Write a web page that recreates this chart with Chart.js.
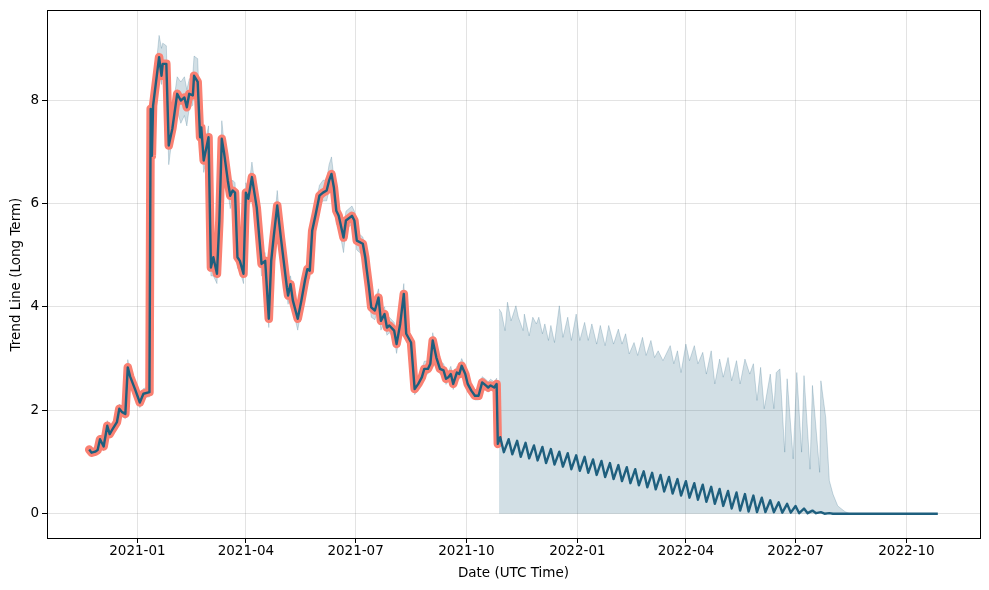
<!DOCTYPE html>
<html lang="en">
<head>
    <meta charset="UTF-8">
    <title>Trend Line (Long Term)</title>
    <script src="https://cdn.jsdelivr.net/npm/chart.js@4.4.0/dist/chart.umd.min.js"></script>
    <style>
        body {
            margin: 0;
            background-color: white;
        }
        .chart-container {
            position: relative;
            width: 989px;
            height: 590px;
        }
    </style>
</head>
<body>
    <div class="chart-container">
        <canvas id="trendChart" width="989" height="590"></canvas>
    </div>

    <script>
        // history (fitted) trend
        const histDates = [
            '2020-11-22','2020-11-24','2020-11-27','2020-11-29','2020-12-01','2020-12-04','2020-12-07','2020-12-09','2020-12-11','2020-12-15',
            '2020-12-17','2020-12-19','2020-12-22','2020-12-24','2020-12-26','2020-12-30','2021-01-03','2021-01-06','2021-01-11','2021-01-12',
            '2021-01-13','2021-01-14','2021-01-19','2021-01-21','2021-01-22','2021-01-25','2021-01-27','2021-01-30','2021-02-03','2021-02-06',
            '2021-02-09','2021-02-11','2021-02-13','2021-02-16','2021-02-17','2021-02-20','2021-02-22','2021-02-23','2021-02-25','2021-03-01',
            '2021-03-03','2021-03-05','2021-03-08','2021-03-10','2021-03-12','2021-03-14','2021-03-17','2021-03-19','2021-03-21','2021-03-23',
            '2021-03-25','2021-03-27','2021-03-30','2021-04-01','2021-04-03','2021-04-06','2021-04-10','2021-04-14','2021-04-17','2021-04-20',
            '2021-04-22','2021-04-24','2021-04-27','2021-04-30','2021-05-05','2021-05-06','2021-05-08','2021-05-10','2021-05-14','2021-05-17',
            '2021-05-20','2021-05-22','2021-05-24','2021-05-26','2021-05-29','2021-06-01','2021-06-04','2021-06-07','2021-06-09','2021-06-11',
            '2021-06-13','2021-06-15','2021-06-17','2021-06-21','2021-06-23','2021-06-28','2021-06-30','2021-07-02','2021-07-07','2021-07-09',
            '2021-07-10','2021-07-12','2021-07-14','2021-07-17','2021-07-20','2021-07-22','2021-07-25','2021-07-27','2021-07-29','2021-08-02',
            '2021-08-04','2021-08-07','2021-08-10','2021-08-12','2021-08-16','2021-08-19','2021-08-22','2021-08-25','2021-08-27','2021-08-30',
            '2021-09-01','2021-09-03','2021-09-06','2021-09-09','2021-09-12','2021-09-14','2021-09-16','2021-09-18','2021-09-20','2021-09-23',
            '2021-09-25','2021-09-27','2021-09-30','2021-10-02','2021-10-05','2021-10-08','2021-10-11','2021-10-14','2021-10-17','2021-10-19',
            '2021-10-21','2021-10-24','2021-10-26','2021-10-27'
        ];
        const histTrend = [
            1.24, 1.18, 1.20, 1.23, 1.44, 1.30, 1.70, 1.54, 1.62, 1.77,
            2.03, 1.97, 1.93, 2.83, 2.65, 2.41, 2.15, 2.32, 2.35, 7.83,
            6.92, 7.89, 8.83, 8.47, 8.70, 8.70, 7.12, 7.45, 8.12, 7.99,
            8.05, 7.86, 8.12, 8.09, 8.47, 8.35, 7.28, 7.47, 6.83, 7.28,
            4.76, 4.96, 4.64, 5.67, 7.25, 6.96, 6.44, 6.15, 6.25, 6.21,
            4.96, 4.89, 4.64, 6.21, 6.09, 6.51, 5.92, 4.83, 4.89, 3.77,
            4.89, 5.34, 5.96, 5.34, 4.38, 4.22, 4.44, 4.12, 3.77, 4.12,
            4.51, 4.73, 4.70, 5.47, 5.80, 6.15, 6.21, 6.25, 6.44, 6.57,
            6.31, 5.86, 5.76, 5.34, 5.67, 5.76, 5.67, 5.28, 5.22, 4.96,
            4.76, 4.40, 3.99, 3.93, 4.18, 3.73, 3.86, 3.60, 3.64, 3.54,
            3.28, 3.67, 4.25, 3.48, 3.31, 2.41, 2.51, 2.64, 2.80, 2.80,
            2.90, 3.35, 3.02, 2.80, 2.77, 2.61, 2.64, 2.70, 2.51, 2.73,
            2.70, 2.86, 2.70, 2.51, 2.38, 2.28, 2.28, 2.54, 2.48, 2.44,
            2.48, 2.44, 2.51, 1.35
        ];
        const histUpper = [
            1.30, 1.26, 1.28, 1.32, 1.52, 1.38, 1.80, 1.62, 1.70, 1.86,
            2.12, 2.05, 2.00, 2.98, 2.74, 2.50, 2.24, 2.42, 2.45, 7.95,
            7.10, 8.05, 9.25, 9.00, 9.10, 9.05, 7.35, 7.80, 8.45, 8.35,
            8.45, 8.20, 8.40, 8.50, 8.85, 8.80, 7.55, 7.70, 7.05, 7.50,
            4.95, 5.15, 4.80, 5.85, 7.60, 7.15, 6.70, 6.35, 6.45, 6.40,
            5.10, 5.05, 4.80, 6.40, 6.25, 6.80, 6.10, 5.00, 5.05, 3.90,
            5.05, 5.50, 6.25, 5.50, 4.55, 4.40, 4.60, 4.30, 3.90, 4.25,
            4.70, 4.90, 4.85, 5.65, 6.00, 6.35, 6.45, 6.45, 6.75, 6.90,
            6.50, 6.00, 5.90, 5.50, 5.85, 5.95, 5.85, 5.45, 5.35, 5.15,
            4.90, 4.55, 4.15, 4.10, 4.35, 3.90, 4.00, 3.75, 3.80, 3.70,
            3.40, 3.85, 4.45, 3.60, 3.45, 2.55, 2.65, 2.80, 2.95, 2.95,
            3.05, 3.50, 3.15, 2.95, 2.90, 2.75, 2.75, 2.85, 2.65, 2.85,
            2.85, 3.00, 2.85, 2.65, 2.50, 2.40, 2.40, 2.65, 2.60, 2.55,
            2.60, 2.55, 2.62, 1.45
        ];
        const histLower = [
            1.18, 1.12, 1.14, 1.16, 1.36, 1.22, 1.62, 1.46, 1.54, 1.68,
            1.95, 1.88, 1.84, 2.75, 2.56, 2.32, 2.05, 2.24, 2.26, 7.70,
            6.85, 7.78, 8.70, 8.30, 8.55, 8.40, 6.75, 7.30, 7.80, 7.55,
            7.70, 7.50, 7.85, 7.90, 8.30, 8.20, 7.00, 7.30, 6.60, 7.05,
            4.60, 4.60, 4.45, 5.50, 7.10, 6.80, 6.25, 5.90, 6.10, 6.05,
            4.75, 4.70, 4.45, 6.05, 5.90, 6.35, 5.75, 4.60, 4.70, 3.60,
            4.75, 5.20, 5.80, 5.15, 4.20, 4.05, 4.30, 3.95, 3.55, 3.95,
            4.35, 4.55, 4.55, 5.30, 5.60, 5.95, 6.05, 6.05, 6.25, 6.40,
            6.10, 5.60, 5.55, 5.05, 5.50, 5.60, 5.50, 5.10, 5.00, 4.75,
            4.55, 4.20, 3.80, 3.75, 4.00, 3.55, 3.70, 3.45, 3.50, 3.40,
            3.10, 3.55, 4.10, 3.35, 3.15, 2.30, 2.40, 2.55, 2.70, 2.70,
            2.80, 3.25, 2.90, 2.70, 2.65, 2.50, 2.55, 2.60, 2.40, 2.65,
            2.60, 2.75, 2.60, 2.40, 2.30, 2.20, 2.20, 2.45, 2.40, 2.35,
            2.40, 2.35, 2.42, 1.30
        ];

        // forecast trend (weekly zigzag)
        const fcstDates = [
            '2021-10-29','2021-11-01','2021-11-05','2021-11-08','2021-11-12','2021-11-15','2021-11-19','2021-11-22','2021-11-26','2021-11-29',
            '2021-12-03','2021-12-06','2021-12-10','2021-12-13','2021-12-17','2021-12-20','2021-12-24','2021-12-27','2021-12-31','2022-01-03',
            '2022-01-07','2022-01-10','2022-01-14','2022-01-17','2022-01-21','2022-01-24','2022-01-28','2022-01-31','2022-02-04','2022-02-07',
            '2022-02-11','2022-02-14','2022-02-18','2022-02-21','2022-02-25','2022-02-28','2022-03-04','2022-03-07','2022-03-11','2022-03-14',
            '2022-03-18','2022-03-21','2022-03-25','2022-03-28','2022-04-01','2022-04-04','2022-04-08','2022-04-11','2022-04-15','2022-04-18',
            '2022-04-22','2022-04-25','2022-04-29','2022-05-02','2022-05-06','2022-05-09','2022-05-13','2022-05-16','2022-05-20','2022-05-23',
            '2022-05-27','2022-05-30','2022-06-03','2022-06-06','2022-06-10','2022-06-13','2022-06-17','2022-06-20','2022-06-24','2022-06-27',
            '2022-07-01','2022-07-04','2022-07-08','2022-07-11','2022-07-15','2022-07-18','2022-07-22','2022-07-25','2022-07-29','2022-08-01',
            '2022-10-27'
        ];
        const fcstTrend = [
            1.48, 1.19, 1.44, 1.15, 1.41, 1.10, 1.37, 1.07, 1.32, 1.03,
            1.29, 0.98, 1.25, 0.95, 1.20, 0.91, 1.17, 0.86, 1.13, 0.83,
            1.10, 0.79, 1.05, 0.75, 1.02, 0.71, 0.98, 0.67, 0.94, 0.63,
            0.90, 0.59, 0.86, 0.55, 0.82, 0.51, 0.79, 0.47, 0.75, 0.43,
            0.71, 0.39, 0.67, 0.35, 0.63, 0.31, 0.59, 0.27, 0.56, 0.23,
            0.52, 0.19, 0.48, 0.15, 0.44, 0.10, 0.41, 0.06, 0.38, 0.04,
            0.35, 0.03, 0.31, 0.03, 0.26, 0.03, 0.22, 0.02, 0.19, 0.02,
            0.15, 0.01, 0.10, 0.01, 0.06, 0.01, 0.03, 0.00, 0.01, 0.00,
            0.00
        ];

        // forecast uncertainty upper edge (lower edge sits on 0)
        const bandDates = [
            '2021-10-28','2021-10-30','2021-11-02','2021-11-04','2021-11-07','2021-11-11','2021-11-13','2021-11-17','2021-11-18','2021-11-22',
            '2021-11-25','2021-11-28','2021-11-30','2021-12-03','2021-12-05','2021-12-08','2021-12-10','2021-12-13','2021-12-17','2021-12-20',
            '2021-12-24','2021-12-27','2021-12-31','2022-01-03','2022-01-07','2022-01-10','2022-01-13','2022-01-17','2022-01-20','2022-01-24',
            '2022-01-27','2022-01-31','2022-02-04','2022-02-07','2022-02-10','2022-02-13','2022-02-17','2022-02-20','2022-02-24','2022-02-27',
            '2022-03-03','2022-03-06','2022-03-09','2022-03-13','2022-03-19','2022-03-22','2022-03-25','2022-03-28','2022-04-01','2022-04-04',
            '2022-04-08','2022-04-11','2022-04-15','2022-04-18','2022-04-22','2022-04-25','2022-04-29','2022-05-02','2022-05-06','2022-05-09',
            '2022-05-13','2022-05-16','2022-05-20','2022-05-24','2022-05-27','2022-05-30','2022-06-02','2022-06-05','2022-06-10','2022-06-13',
            '2022-06-15','2022-06-18','2022-06-22','2022-06-24','2022-06-29','2022-07-02','2022-07-06','2022-07-08','2022-07-13','2022-07-15',
            '2022-07-21','2022-07-22','2022-07-26','2022-07-29','2022-08-01','2022-08-05','2022-08-11','2022-08-15','2022-10-27'
        ];
        const bandUpper = [
            3.96, 3.89, 3.54, 4.09, 3.73, 4.02, 3.80, 3.54, 3.86, 3.44,
            3.80, 3.67, 3.80, 3.48, 3.67, 3.35, 3.64, 3.31, 4.02, 3.41,
            3.80, 3.35, 3.86, 3.35, 3.70, 3.35, 3.67, 3.28, 3.64, 3.25,
            3.64, 3.28, 3.57, 3.28, 3.48, 3.09, 3.31, 3.06, 3.41, 3.06,
            3.35, 3.02, 3.15, 2.96, 3.25, 2.90, 3.15, 2.73, 3.28, 2.96,
            3.25, 2.90, 3.12, 2.70, 3.15, 2.51, 2.99, 2.64, 3.02, 2.57,
            2.96, 2.51, 2.99, 2.70, 2.90, 2.19, 2.83, 2.03, 2.70, 2.03,
            2.73, 2.80, 1.19, 2.61, 1.06, 2.73, 1.19, 2.67, 0.86, 2.48,
            0.80, 2.57, 1.86, 0.64, 0.38, 0.15, 0.04, 0.00, 0.00
        ];

        const xTickLabels = ['2021-01', '2021-04', '2021-07', '2021-10', '2022-01', '2022-04', '2022-07', '2022-10'];
        const yTickValues = [0, 2, 4, 6, 8];

        const lineColor = 'rgb(30, 95, 126)';
        const bandColor = 'rgba(30, 95, 126, 0.2)';
        const bandEdge = 'rgba(30, 95, 126, 0.22)';
        const salmon = 'rgb(250, 128, 114)';
        const fontFamily = "'DejaVu Sans', sans-serif";

        const toPoints = (dates, values) => dates.map((d, i) => ({ x: Date.parse(d), y: values[i] }));

        const histPoints = toPoints(histDates, histTrend);
        const trendPoints = histPoints.concat(toPoints(fcstDates, fcstTrend));

        const framePlugin = {
            id: 'frame',
            afterDraw(chart) {
                const { ctx, chartArea } = chart;
                ctx.save();
                ctx.strokeStyle = '#000';
                ctx.lineWidth = 1;
                ctx.strokeRect(Math.round(chartArea.left) + 0.5, Math.round(chartArea.top) - 0.5,
                    Math.round(chartArea.right - chartArea.left), Math.round(chartArea.bottom - chartArea.top) + 1);
                ctx.restore();
            }
        };

        const ctx = document.getElementById('trendChart').getContext('2d');
        new Chart(ctx, {
            type: 'line',
            data: {
                datasets: [
                    {
                        label: 'trend',
                        data: trendPoints,
                        borderColor: lineColor,
                        borderWidth: 2.4,
                        borderJoinStyle: 'round',
                        pointRadius: 0,
                        fill: false,
                        order: 0
                    },
                    {
                        label: 'history',
                        data: histPoints,
                        borderColor: salmon,
                        borderWidth: 8.5,
                        borderJoinStyle: 'round',
                        borderCapStyle: 'round',
                        pointRadius: 0,
                        fill: false,
                        order: 1
                    },
                    {
                        label: 'upper',
                        data: toPoints(histDates, histUpper),
                        borderColor: bandEdge,
                        borderWidth: 1,
                        backgroundColor: bandColor,
                        pointRadius: 0,
                        fill: '+1',
                        order: 2
                    },
                    {
                        label: 'lower',
                        data: toPoints(histDates, histLower),
                        borderColor: bandEdge,
                        borderWidth: 1,
                        pointRadius: 0,
                        fill: false,
                        order: 3
                    },
                    {
                        label: 'forecast band',
                        data: toPoints(bandDates, bandUpper),
                        borderColor: bandEdge,
                        borderWidth: 1,
                        backgroundColor: bandColor,
                        pointRadius: 0,
                        fill: 'origin',
                        order: 4
                    }
                ]
            },
            options: {
                responsive: false,
                animation: false,
                events: [],
                layout: {
                    padding: { top: 10, right: 9, bottom: 0, left: 0 }
                },
                plugins: {
                    legend: { display: false },
                    tooltip: { enabled: false }
                },
                scales: {
                    x: {
                        type: 'linear',
                        min: Date.parse('2020-10-18'),
                        max: Date.parse('2022-12-01'),
                        border: { display: false },
                        grid: {
                            color: 'rgba(128, 128, 128, 0.22)',
                            lineWidth: 1,
                            tickColor: '#000',
                            tickLength: 5
                        },
                        afterBuildTicks: scale => {
                            scale.ticks = xTickLabels.map(l => ({ value: Date.parse(l + '-01') }));
                        },
                        afterFit: scale => {
                            scale.height = 52;
                        },
                        ticks: {
                            color: '#000',
                            padding: 0,
                            maxRotation: 0,
                            autoSkip: false,
                            font: { family: fontFamily, size: 13.5 },
                            callback: (value, index) => xTickLabels[index]
                        },
                        title: {
                            display: true,
                            text: 'Date (UTC Time)',
                            color: '#000',
                            font: { family: fontFamily, size: 13.5 },
                            padding: { top: 0, bottom: 8 }
                        }
                    },
                    y: {
                        min: -0.47,
                        max: 9.72,
                        border: { display: false },
                        grid: {
                            color: 'rgba(128, 128, 128, 0.22)',
                            lineWidth: 1,
                            tickColor: '#000',
                            tickLength: 5
                        },
                        afterBuildTicks: scale => {
                            scale.ticks = yTickValues.map(v => ({ value: v }));
                        },
                        afterFit: scale => {
                            scale.width = 47;
                        },
                        ticks: {
                            color: '#000',
                            padding: 3,
                            font: { family: fontFamily, size: 13.5 },
                            callback: value => String(value)
                        },
                        title: {
                            display: true,
                            text: 'Trend Line (Long Term)',
                            color: '#000',
                            font: { family: fontFamily, size: 13.5 },
                            padding: { top: 8, bottom: 0 }
                        }
                    }
                }
            },
            plugins: [framePlugin]
        });
    </script>
</body>
</html>
